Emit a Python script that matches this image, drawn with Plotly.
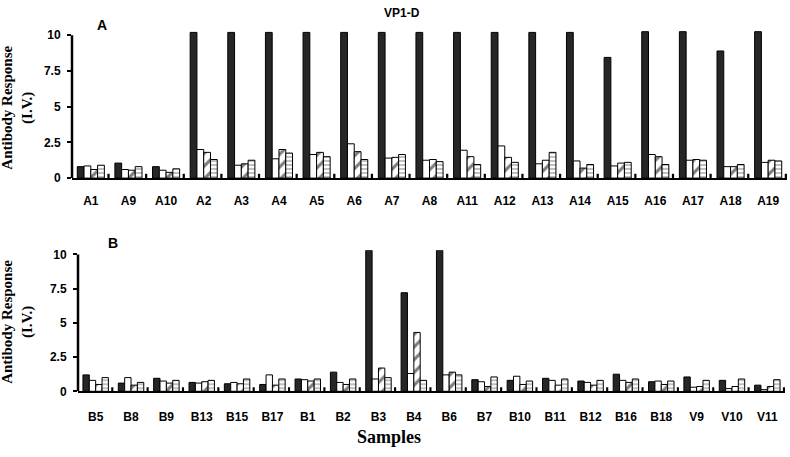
import plotly.graph_objects as go

# ---------------- data ----------------
samples_a = ["A1", "A9", "A10", "A2", "A3", "A4", "A5", "A6", "A7", "A8",
             "A11", "A12", "A13", "A14", "A15", "A16", "A17", "A18", "A19"]
a_black = [0.8, 1.05, 0.8, 10.2, 10.2, 10.2, 10.2, 10.2, 10.2, 10.2,
           10.2, 10.2, 10.2, 10.2, 8.45, 10.25, 10.25, 8.9, 10.25]
a_white = [0.85, 0.6, 0.55, 2.0, 0.9, 1.35, 1.65, 2.4, 1.4, 1.25,
           1.95, 2.25, 1.0, 1.2, 0.85, 1.65, 1.25, 0.8, 1.1]
a_diag = [0.6, 0.55, 0.4, 1.8, 1.0, 2.0, 1.8, 1.85, 1.45, 1.3,
          1.5, 1.45, 1.25, 0.7, 1.05, 1.5, 1.3, 0.8, 1.25]
a_horiz = [0.9, 0.8, 0.65, 1.3, 1.25, 1.75, 1.5, 1.3, 1.65, 1.15,
           0.95, 1.1, 1.8, 0.95, 1.1, 0.95, 1.25, 0.95, 1.2]
a_cut = [0.3] * len(samples_a)

samples_b = ["B5", "B8", "B9", "B13", "B15", "B17", "B1", "B2", "B3", "B4",
             "B6", "B7", "B10", "B11", "B12", "B16", "B18", "V9", "V10", "V11"]
b_black = [1.2, 0.6, 0.95, 0.65, 0.55, 0.5, 0.9, 1.4, 10.3, 7.2,
           10.3, 0.85, 0.8, 0.95, 0.75, 1.25, 0.7, 1.05, 0.8, 0.45]
b_white = [0.8, 1.0, 0.75, 0.6, 0.65, 1.2, 0.85, 0.65, 0.9, 1.3,
           1.2, 0.7, 1.1, 0.8, 0.65, 0.8, 0.75, 0.3, 0.2, 0.12]
b_diag = [0.5, 0.45, 0.6, 0.7, 0.55, 0.45, 0.75, 0.5, 1.7, 4.3,
          1.4, 0.35, 0.5, 0.45, 0.45, 0.65, 0.5, 0.35, 0.35, 0.35]
b_horiz = [1.0, 0.65, 0.8, 0.8, 0.9, 0.9, 0.9, 0.9, 1.0, 0.8,
           1.2, 1.05, 0.75, 0.9, 0.8, 0.9, 0.75, 0.8, 0.9, 0.85]
b_cut = [0.3] * len(samples_b)

y_ticks = [0, 2.5, 5, 7.5, 10]
y_tick_text = ["0", "2.5", "5", "7.5", "10"]

# ---------------- figure ----------------
W, H = 790, 457
fig = go.Figure()

BW = 0.18
offsets = [-2 * BW, -BW, 0, BW]
line = dict(color="black", width=1)


def add_panel(cats, blk, wht, dg, hz, cut, xa, ya):
    fig.add_trace(go.Bar(x=cats, y=blk, offset=offsets[0], width=BW,
                         marker=dict(color="#262626", line=line),
                         xaxis=xa, yaxis=ya, showlegend=False))
    fig.add_trace(go.Bar(x=cats, y=wht, offset=offsets[1], width=BW,
                         marker=dict(color="white", line=line),
                         xaxis=xa, yaxis=ya, showlegend=False))
    fig.add_trace(go.Bar(x=cats, y=dg, offset=offsets[2], width=BW,
                         marker=dict(color="white", line=line,
                                     pattern=dict(shape="/", fgcolor="black",
                                                  bgcolor="white", size=9,
                                                  solidity=0.35)),
                         xaxis=xa, yaxis=ya, showlegend=False))
    fig.add_trace(go.Bar(x=cats, y=hz, offset=offsets[3], width=BW,
                         marker=dict(color="white", line=line,
                                     pattern=dict(shape="-", fgcolor="black",
                                                  bgcolor="white", size=4,
                                                  solidity=0.25)),
                         xaxis=xa, yaxis=ya, showlegend=False))
    fig.add_trace(go.Bar(x=cats, y=cut, offset=0.44, width=0.06,
                         marker=dict(color="black", line=dict(width=0)),
                         xaxis=xa, yaxis=ya, showlegend=False))


add_panel(samples_a, a_black, a_white, a_diag, a_horiz, a_cut, "x", "y")
add_panel(samples_b, b_black, b_white, b_diag, b_horiz, b_cut, "x2", "y2")

tickfont = dict(family="Arial, Liberation Sans", size=12, color="black", weight="bold")
xa_common = dict(type="category", showline=True, linecolor="black", linewidth=2,
                 ticks="", showgrid=False, zeroline=False, tickfont=tickfont,
                 fixedrange=True)
ya_common = dict(showline=False, ticks="outside", ticklen=4, tickwidth=2,
                 tickcolor="black", showgrid=False, zeroline=False,
                 tickvals=y_ticks, ticktext=y_tick_text, tickfont=tickfont,
                 ticklabelstandoff=4, range=[0, 10.3], fixedrange=True)

fig.update_layout(
    width=W, height=H, barmode="overlay",
    margin=dict(l=0, r=0, t=0, b=0),
    paper_bgcolor="white", plot_bgcolor="white",
    xaxis=dict(**xa_common, domain=[72 / W, 787 / W], range=[-0.5, len(samples_a) - 0.5],
               anchor="y", ticklabelstandoff=11),
    yaxis=dict(**ya_common, domain=[(H - 179) / H, (H - 28.6) / H], anchor="x"),
    xaxis2=dict(**xa_common, domain=[78 / W, 785 / W], range=[-0.5, len(samples_b) - 0.5],
                anchor="y2", ticklabelstandoff=13),
    yaxis2=dict(**ya_common, domain=[(H - 397) / H, (H - 252.8) / H], anchor="x2"),
)

# vertical axis lines from 0 to 10
for xr, yr in (("x domain", "y"), ("x2 domain", "y2")):
    fig.add_shape(type="line", xref=xr, yref=yr, x0=0, x1=0, y0=0, y1=10,
                  line=dict(color="black", width=2.5))

serif = "Times New Roman, Liberation Serif, serif"
ytitle = "<b>Antibody Response</b><br><b>(I.V.)</b>"


def note(text, x, y, size, family, angle=0):
    fig.add_annotation(text=text, x=x / W, y=(H - y) / H, xref="paper", yref="paper",
                       xanchor="center", yanchor="middle", textangle=angle,
                       showarrow=False, font=dict(family=family, size=size, color="black"))


note(ytitle, 18, 107, 15, serif, -90)
note(ytitle, 18, 326, 15, serif, -90)
note("<b>Samples</b>", 389, 444, 18, serif)
note("<b>VP1-D</b>", 402, 10, 12, "Arial, Liberation Sans")
note("<b>A</b>", 102, 22, 14, "Arial, Liberation Sans")
note("<b>B</b>", 113, 245, 14, "Arial, Liberation Sans")

fig.write_html("out.html", config={"displayModeBar": False},
               post_script="document.body.style.margin='0';")
